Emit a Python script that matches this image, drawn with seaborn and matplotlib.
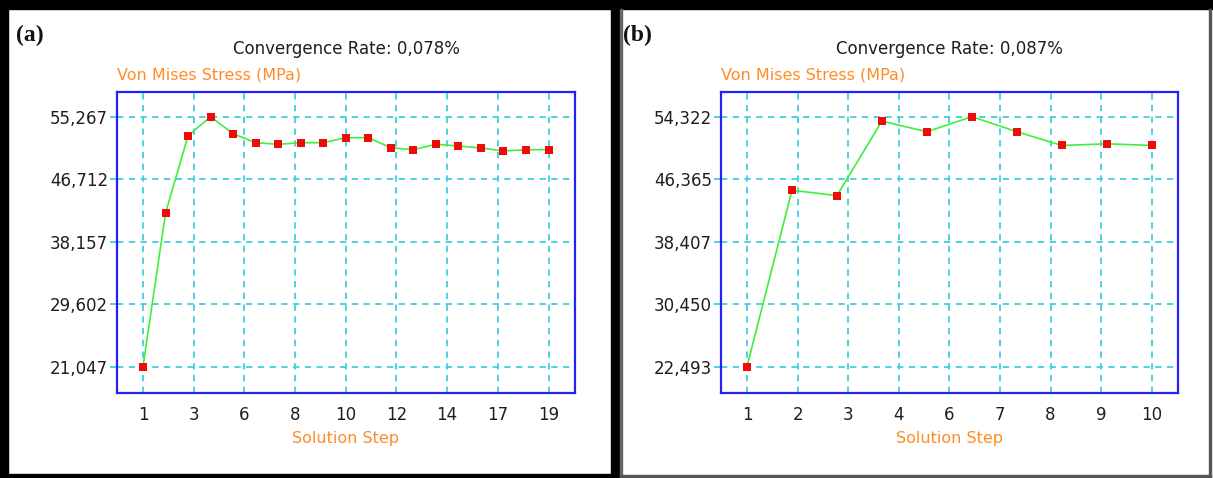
import numpy as np
import pandas as pd
import matplotlib
matplotlib.use("Agg")
import matplotlib.pyplot as plt
import seaborn as sns
from matplotlib.patches import Rectangle

# ---------------- data ----------------
steps_a = list(range(1, 20))
stress_a = [21.047, 42.05, 52.67, 55.267, 52.94, 51.71, 51.49, 51.71, 51.71, 52.39,
            52.39, 51.02, 50.75, 51.49, 51.26, 50.98, 50.57, 50.75, 50.75]
xtick_labels_a = ["1", "3", "6", "8", "10", "12", "14", "17", "19"]
ytick_values_a = [21.047, 29.602, 38.157, 46.712, 55.267]
title_a = "Convergence Rate: 0,078%"

steps_b = list(range(1, 11))
stress_b = [22.493, 44.95, 44.28, 53.76, 52.41, 54.322, 52.41, 50.66, 50.87, 50.66]
xtick_labels_b = ["1", "2", "3", "4", "6", "7", "8", "9", "10"]
ytick_values_b = [22.493, 30.450, 38.407, 46.365, 54.322]
title_b = "Convergence Rate: 0,087%"

ylabel = "Von Mises Stress (MPa)"
xlabel = "Solution Step"
panel_labels = ["(a)", "(b)"]

# ---------------- style ----------------
W, H = 1213, 478
sns.set_theme(style="white")
plt.rcParams["font.family"] = ["DejaVu Sans"]

GRID = "#3FCFDD"
BOX = "#2323F5"
LINE = "#3CF03C"
MARK = "#F00A0A"
ORANGE = "#FF8C26"
TXT = "#1E1E1E"

fig = plt.figure(figsize=(W / 100, H / 100), dpi=100)
fig.patch.set_facecolor("white")


def fx(px):
    return px / W


def fy(py):
    return 1 - py / H


def panel(left_px, right_px, steps, vals, xlabels, yticks, title, plabel, plabel_x):
    top_px, bot_px = 91.7, 393.3
    ax = fig.add_axes([fx(left_px), fy(bot_px), fx(right_px - left_px), (bot_px - top_px) / H])
    df = pd.DataFrame({"step": steps, "stress": vals})
    sns.lineplot(data=df, x="step", y="stress", ax=ax, color=LINE, linewidth=1.2, zorder=3)
    sns.scatterplot(data=df, x="step", y="stress", ax=ax, marker="s", s=28,
                    color=MARK, edgecolor=MARK, linewidth=0, zorder=4)
    n = len(steps)
    ypx_per = (366.7 - 116.7) / (len(yticks) - 1)
    ystep = (yticks[-1] - yticks[0]) / (len(yticks) - 1)
    ax.set_ylim(yticks[0] - (bot_px - 366.7) / ypx_per * ystep,
                yticks[-1] + (116.7 - top_px) / ypx_per * ystep)
    xpos = np.linspace(steps[0], steps[-1], len(xlabels))
    pts_px = (right_px - left_px - 52) / (n - 1)
    ax.set_xlim(steps[0] - 26 / pts_px, steps[-1] + 26.5 / pts_px)
    ax.set_xticks(xpos)
    ax.set_xticklabels(xlabels)
    ax.set_yticks(yticks)
    ax.set_yticklabels([f"{v:.3f}".replace(".", ",") for v in yticks])
    ax.grid(True, color=GRID, linestyle=(0, (3.5, 3.0)), linewidth=1.3, zorder=1)
    ax.tick_params(axis="x", length=0, pad=9, labelsize=12, labelcolor=TXT)
    ax.tick_params(axis="y", length=5, width=1.3, color=GRID, pad=1.5, labelsize=12,
                   labelcolor=TXT, left=True)
    ax.set_xlabel("")
    ax.set_ylabel("")
    for s in ax.spines.values():
        s.set_color(BOX)
        s.set_linewidth(1.6)
    cx = (left_px + right_px) / 2
    fig.text(fx(cx), fy(54.5), title, ha="center", va="baseline", fontsize=12, color=TXT)
    fig.text(fx(left_px), fy(80), ylabel, ha="left", va="baseline", fontsize=11.5, color=ORANGE)
    fig.text(fx(cx), fy(443), xlabel, ha="center", va="baseline", fontsize=11.5, color=ORANGE)
    fig.text(fx(plabel_x), fy(41), plabel, ha="left", va="baseline", fontsize=17,
             fontweight="bold", family=["Liberation Serif"], color="#111111")
    return ax


panel(117, 575, steps_a, stress_a, xtick_labels_a, ytick_values_a, title_a, panel_labels[0], 16)
panel(721, 1178.3, steps_b, stress_b, xtick_labels_b, ytick_values_b, title_b, panel_labels[1], 623)

# ---------------- frames ----------------
def rect(x0, y0, x1, y1, color):
    fig.patches.append(Rectangle((fx(x0), fy(y1)), fx(x1 - x0), (y1 - y0) / H,
                                 transform=fig.transFigure, color=color, zorder=10))

rect(0, 0, W, 9, "black")
rect(0, 0, 8, H, "black")
rect(611, 0, 619, H, "black")
rect(0, 474, 619, H, "black")
rect(620, 9, 621.5, H, "#666666")
rect(1209, 9, 1211, H, "#555555")
rect(620, 475, 1211, 477, "#555555")

fig.savefig("out.png", dpi=100, facecolor="white")
